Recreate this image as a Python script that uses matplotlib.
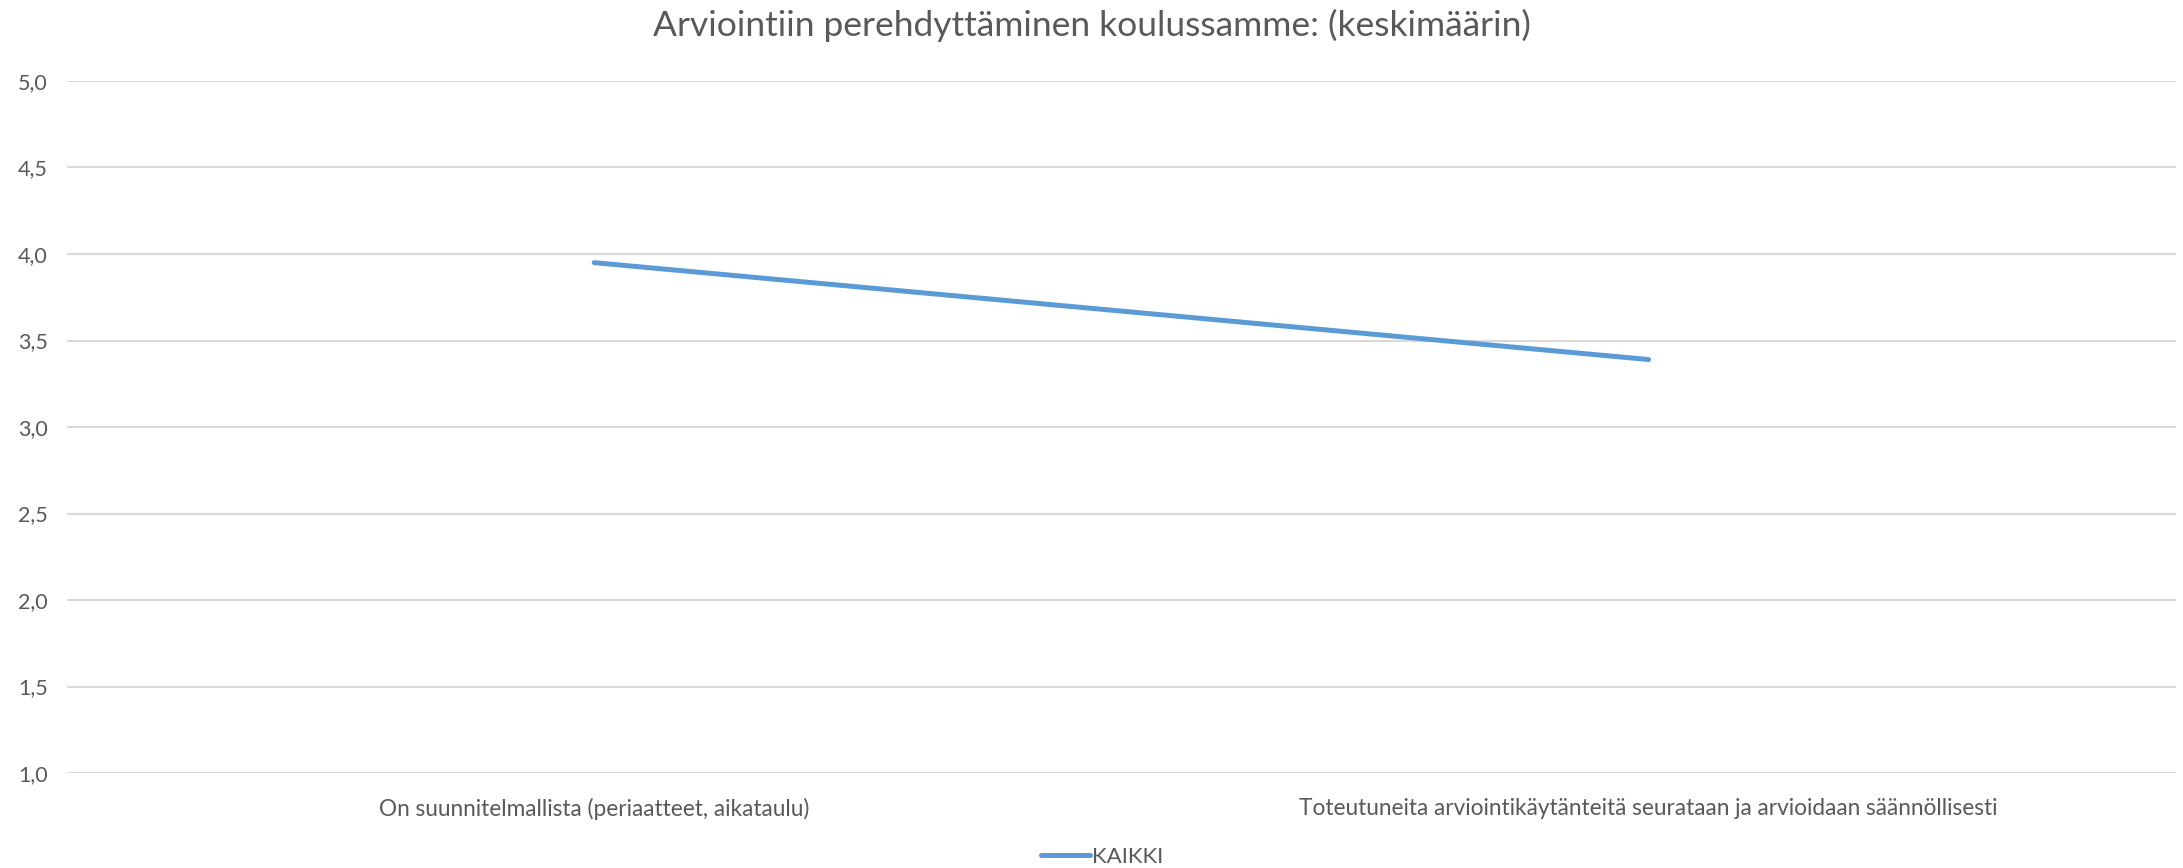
import matplotlib.pyplot as plt

plt.rcParams['font.family'] = ['Lato', 'DejaVu Sans']

categories = ['On suunnitelmallista (periaatteet, aikataulu)',
              'Toteutuneita arviointikäytänteitä seurataan ja arvioidaan säännöllisesti']
kaikki = [3.95, 3.39]
yticks = [1.0, 1.5, 2.0, 2.5, 3.0, 3.5, 4.0, 4.5, 5.0]

text_col = '#595959'
grid_col = '#D9D9D9'
line_col = '#5B9BD5'

fig = plt.figure(figsize=(21.83, 8.68), dpi=100)
ax = fig.add_axes([0.0307, 0.1094, 0.966, 0.7973])

x = list(range(len(categories)))
ax.plot(x, kaikki, color=line_col, linewidth=3.6, solid_capstyle='round', label='KAIKKI')

ax.set_xlim(-0.5, len(categories) - 0.5)
ax.set_ylim(1.0, 5.0)
ax.set_yticks(yticks)
ax.set_yticklabels([f'{v:.1f}'.replace('.', ',') for v in yticks], fontsize=15.5)
ax.set_xticks(x)
ax.set_xticklabels(categories, fontsize=16.3)

ax.grid(axis='y', color=grid_col, linewidth=1.5)
ax.set_axisbelow(True)
for s in ax.spines.values():
    s.set_visible(False)
ax.tick_params(axis='both', length=0, labelcolor=text_col)
ax.tick_params(axis='y', pad=14)
ax.tick_params(axis='x', pad=18)

fig.suptitle('Arviointiin perehdyttäminen koulussamme: (keskimäärin)',
             y=0.99, fontsize=25.5, color=text_col)

fig.legend(loc='lower center', bbox_to_anchor=(0.505, -0.022), frameon=False,
           fontsize=16, labelcolor=text_col, handlelength=2.2, handletextpad=0.1)

fig.savefig('out.png', dpi=100)
